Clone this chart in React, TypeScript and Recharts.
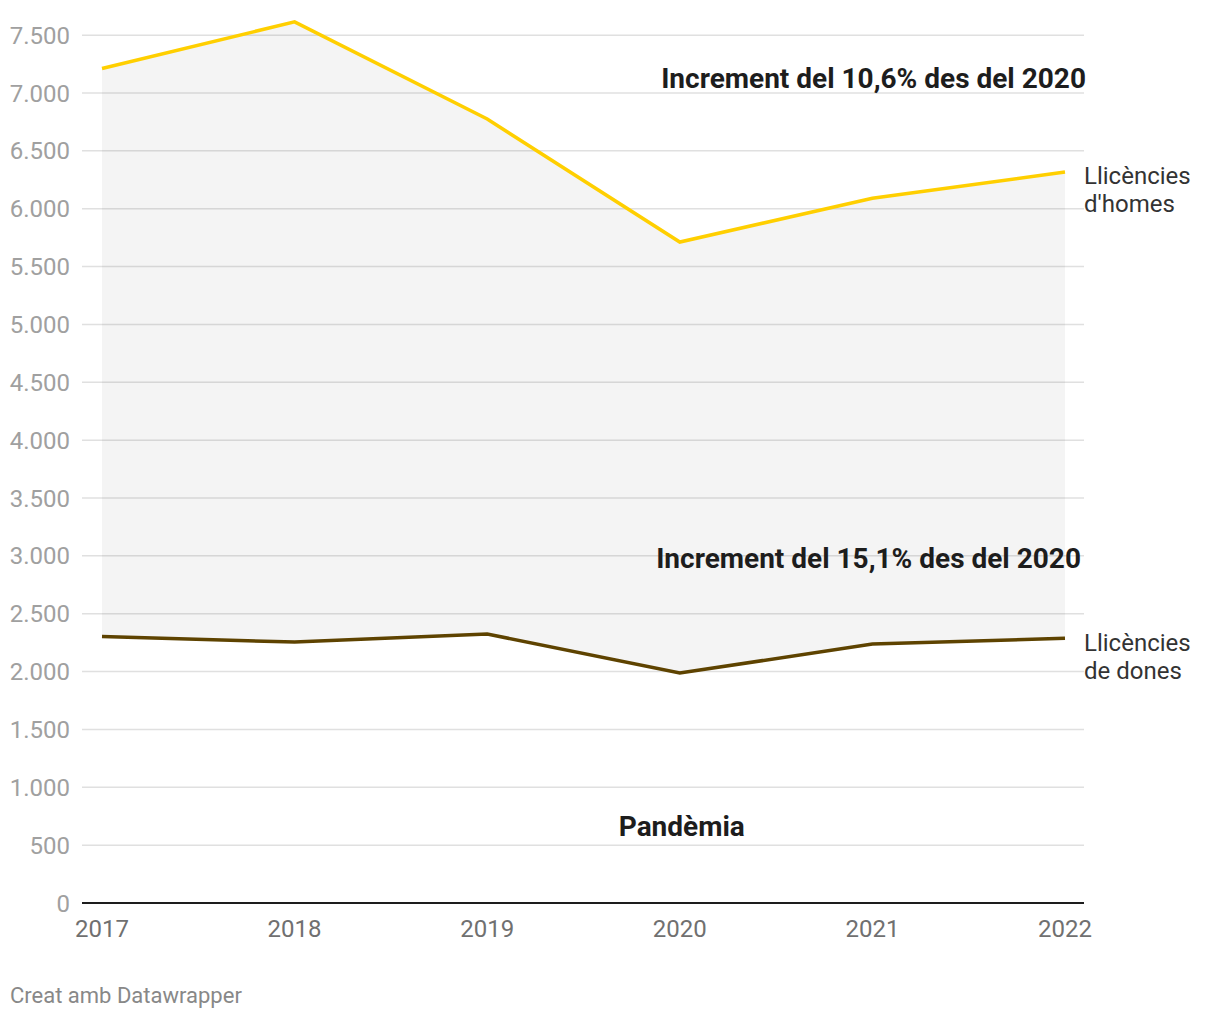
import React from "react";
import {
  ComposedChart,
  Line,
  Area,
  XAxis,
  YAxis,
  CartesianGrid,
  ReferenceDot,
} from "recharts";

// values
const years = ["2017", "2018", "2019", "2020", "2021", "2022"];
const homes = [7212, 7615, 6775, 5712, 6090, 6317];
const dones = [2303, 2255, 2325, 1987, 2238, 2288];
const yTicks = [0, 500, 1000, 1500, 2000, 2500, 3000, 3500, 4000, 4500, 5000, 5500, 6000, 6500, 7000, 7500];

const FONT = "Roboto, 'Noto Sans', sans-serif";

const data = years.map((year, i) => ({
  year,
  homes: homes[i],
  dones: dones[i],
  range: [dones[i], homes[i]],
}));

function thousands(v: number) {
  return String(v).replace(/\B(?=(\d{3})+(?!\d))/g, ".");
}

function endLabel(lines: string[]) {
  return (props: any) => {
    const { x, y, index } = props;
    if (index !== years.length - 1) return null;
    return (
      <text x={x + 19} y={y + 4} fontFamily={FONT} fontSize={24} fill="#333333">
        {lines.map((l, i) => (
          <tspan key={i} x={x + 19} dy={i === 0 ? "0.35em" : 28}>
            {l}
          </tspan>
        ))}
      </text>
    );
  };
}

function note(text: string, anchor: "start" | "middle" | "end", dx: number) {
  return (props: any) => {
    const { viewBox } = props;
    const cx = viewBox.x + viewBox.width / 2;
    const cy = viewBox.y + viewBox.height / 2;
    return (
      <text
        x={cx + dx}
        y={cy}
        dy="0.35em"
        textAnchor={anchor}
        fontFamily={FONT}
        fontWeight={700}
        fontSize={28}
        fill="#1d1d1d"
      >
        {text}
      </text>
    );
  };
}

export default function App() {
  return (
    <div style={{ position: "absolute", left: 0, top: 0, width: 1220, height: 1020, background: "#fff" }}>
      <ComposedChart
        width={1220}
        height={1020}
        data={data}
        margin={{ top: 12, right: 136, left: 12, bottom: 77 }}
      >
        <CartesianGrid
          vertical={false}
          horizontalValues={yTicks}
          stroke="#e0e0e0"
          strokeWidth={1.5}
        />
        <XAxis
          dataKey="year"
          padding={{ left: 20, right: 19 }}
          height={40}
          tickLine={false}
          tickSize={0}
          tickMargin={17}
          axisLine={{ stroke: "#1d1d1d", strokeWidth: 2 }}
          tick={{ fontFamily: FONT, fontSize: 24, fill: "#707070" }}
        />
        <YAxis
          width={70}
          domain={[0, 7700]}
          ticks={yTicks}
          interval={0}
          tickFormatter={thousands}
          tickLine={false}
          axisLine={false}
          tickSize={0}
          tickMargin={12}
          tick={{ fontFamily: FONT, fontSize: 24, fill: "#a0a0a0" }}
        />
        <Area
          dataKey="range"
          type="linear"
          fill="#000000"
          fillOpacity={0.045}
          stroke="none"
          isAnimationActive={false}
        />
        <Line
          dataKey="homes"
          type="linear"
          stroke="#ffcf00"
          strokeWidth={3.5}
          dot={false}
          activeDot={false}
          isAnimationActive={false}
          label={endLabel(["Llicències", "d'homes"])}
        />
        <Line
          dataKey="dones"
          type="linear"
          stroke="#5e4300"
          strokeWidth={3.5}
          dot={false}
          activeDot={false}
          isAnimationActive={false}
          label={endLabel(["Llicències", "de dones"])}
        />
        <ReferenceDot x="2022" y={7130} r={0} label={note("Increment del 10,6% des del 2020", "end", 21)} />
        <ReferenceDot x="2022" y={2981} r={0} label={note("Increment del 15,1% des del 2020", "end", 16)} />
        <ReferenceDot x="2020" y={665} r={0} label={note("Pandèmia", "middle", 2)} />
      </ComposedChart>
      <div
        style={{
          position: "absolute",
          left: 10,
          top: 983,
          fontFamily: FONT,
          fontSize: 22,
          color: "#888888",
        }}
      >
        Creat amb Datawrapper
      </div>
    </div>
  );
}
